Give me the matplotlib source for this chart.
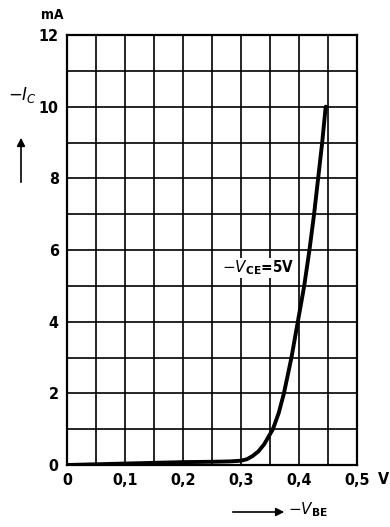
import numpy as np
import matplotlib.pyplot as plt

# Curve: -V_BE (V) vs -I_C (mA), V_CE = -5 V
vbe = [0.0, 0.05, 0.10, 0.15, 0.20, 0.25, 0.28, 0.30, 0.31, 0.32, 0.33, 0.34,
       0.355, 0.365, 0.374, 0.387, 0.398, 0.409, 0.418, 0.426, 0.433, 0.440,
       0.446]
ic = [0.0, 0.02, 0.04, 0.06, 0.08, 0.09, 0.10, 0.12, 0.16, 0.25, 0.38, 0.58,
      1.0, 1.45, 2.0, 3.0, 4.0, 5.0, 6.0, 7.0, 8.0, 9.0, 10.0]

x_ticks = [0, 0.1, 0.2, 0.3, 0.4, 0.5]
x_labels = ['0', '0,1', '0,2', '0,3', '0,4', '0,5']
y_ticks = [0, 2, 4, 6, 8, 10, 12]
y_labels = ['0', '2', '4', '6', '8', '10', '12']

font = dict(family='DejaVu Sans', stretch='condensed', weight='bold')

fig = plt.figure(figsize=(3.9, 5.27), dpi=100)
ax = fig.add_axes([67 / 390, 62 / 527, 290 / 390, 430 / 527])

ax.set_xlim(0, 0.5)
ax.set_ylim(0, 12)

# grid every 0.05 V and 1 mA
for xv in np.arange(0.05, 0.5, 0.05):
    ax.axvline(xv, color='black', lw=1.2, zorder=1)
for yv in range(1, 12):
    ax.axhline(yv, color='black', lw=1.2, zorder=1)
for s in ax.spines.values():
    s.set_linewidth(1.6)

ax.plot(vbe, ic, color='black', lw=2.8, solid_capstyle='round',
        solid_joinstyle='round', zorder=3)

ax.set_xticks(x_ticks)
ax.set_yticks(y_ticks)
ax.set_xticklabels(x_labels, fontsize=11.5, **font)
ax.set_yticklabels(y_labels, fontsize=11.5, **font)
ax.tick_params(length=0, pad=6)

# curve label
ax.text(0.268, 5.5, r'$-V_{\mathbf{CE}}$=5V', fontsize=11, ha='left', va='center',
        bbox=dict(facecolor='white', edgecolor='none', pad=0.5), zorder=4, **font)

# unit labels
fig.text(52 / 390, 1 - 15 / 527, 'mA', fontsize=10, ha='center', va='center', **font)
fig.text(383 / 390, 1 - 480 / 527, 'V', fontsize=11.5, ha='center', va='center', **font)

# y-axis quantity with arrow
fig.text(22 / 390, 1 - 95 / 527, r'$-I_C$', fontsize=12, ha='center', va='center')
fig.patches.append(plt.matplotlib.patches.FancyArrowPatch(
    (21 / 390, 1 - 185 / 527), (21 / 390, 1 - 135 / 527),
    transform=fig.transFigure, arrowstyle='-|>', mutation_scale=12,
    color='black', lw=1.2))

# x-axis quantity with arrow
fig.patches.append(plt.matplotlib.patches.FancyArrowPatch(
    (230 / 390, 1 - 512 / 527), (287 / 390, 1 - 512 / 527),
    transform=fig.transFigure, arrowstyle='-|>', mutation_scale=12,
    color='black', lw=1.2))
fig.text(288 / 390, 1 - 510 / 527, r'$-V_{\mathbf{BE}}$', fontsize=11,
         ha='left', va='center')

fig.savefig('out.png', dpi=100)
